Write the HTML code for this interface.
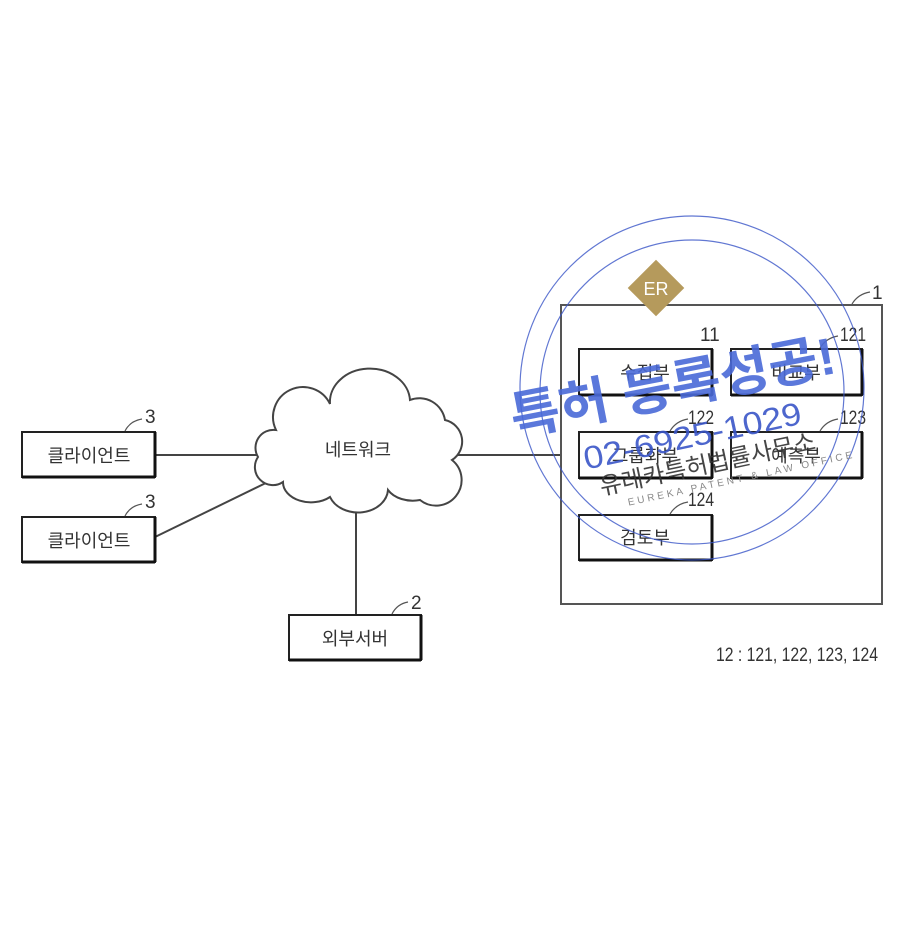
<!DOCTYPE html>
<html><head><meta charset="utf-8"><style>
html,body{margin:0;padding:0;background:#fff;}
svg{display:block;}
text{font-family:"Liberation Sans","Noto Sans CJK KR","NanumGothic",sans-serif;}
</style></head><body>
<svg width="900" height="949" viewBox="0 0 900 949" xmlns="http://www.w3.org/2000/svg">
<rect width="900" height="949" fill="#fff"/>
<g stroke="#444" stroke-width="2" fill="none">
<line x1="155" y1="455" x2="262" y2="455"/>
<line x1="155" y1="537" x2="272" y2="480"/>
<line x1="356" y1="510" x2="356" y2="616"/>
<line x1="455" y1="455" x2="561" y2="455"/>
<path d="M258,457 A18 18 0 0 1 276,430 A28 28 0 0 1 330,404 A36 30 0 0 1 410,400 A26 26 0 0 1 445,420 A22 22 0 0 1 452,460 A24 24 0 0 1 420,500 A28 20 0 0 1 388,490 A30 24 0 0 1 330,497 A28 20 0 0 1 283,482 A18 18 0 0 1 258,457 Z" fill="#fff"/>
</g>
<g fill="#fff" stroke="#222" stroke-width="2">
<rect x="22" y="432" width="133" height="45"/>
<rect x="22" y="517" width="133" height="45"/>
<rect x="289" y="615" width="132" height="45"/>
<rect x="561" y="305" width="321" height="299" stroke="#555"/>
<rect x="579" y="349" width="133" height="46"/>
<rect x="731" y="349" width="131" height="46"/>
<rect x="579" y="432" width="133" height="46"/>
<rect x="731" y="432" width="131" height="46"/>
<rect x="579" y="515" width="133" height="45"/>
</g>
<g stroke="#111" stroke-width="3">
<line x1="22" y1="477" x2="155" y2="477"/><line x1="155" y1="432" x2="155" y2="477"/>
<line x1="22" y1="562" x2="155" y2="562"/><line x1="155" y1="517" x2="155" y2="562"/>
<line x1="289" y1="660" x2="421" y2="660"/><line x1="421" y1="615" x2="421" y2="660"/>
<line x1="579" y1="395" x2="712" y2="395"/><line x1="712" y1="349" x2="712" y2="395"/>
<line x1="731" y1="395" x2="862" y2="395"/><line x1="862" y1="349" x2="862" y2="395"/>
<line x1="579" y1="478" x2="712" y2="478"/><line x1="712" y1="432" x2="712" y2="478"/>
<line x1="731" y1="478" x2="862" y2="478"/><line x1="862" y1="432" x2="862" y2="478"/>
<line x1="579" y1="560" x2="712" y2="560"/><line x1="712" y1="515" x2="712" y2="560"/>
</g>
<g fill="#333" font-size="18" text-anchor="middle">
<text x="89" y="462">클라이언트</text>
<text x="89" y="547">클라이언트</text>
<text x="355" y="645">외부서버</text>
<text x="358" y="456">네트워크</text>
<text x="645" y="379">수집부</text>
<text x="796" y="379">비교부</text>
<text x="645" y="462">그룹화부</text>
<text x="796" y="462">예측부</text>
<text x="645" y="544">검토부</text>
</g>
<g fill="#333" font-size="19">
<text x="145" y="423">3</text>
<text x="145" y="508">3</text>
<text x="411" y="609">2</text>
<text x="872" y="299">1</text>
<text x="700" y="341">11</text>
<text x="840" y="341" textLength="26" lengthAdjust="spacingAndGlyphs">121</text>
<text x="688" y="424" textLength="26" lengthAdjust="spacingAndGlyphs">122</text>
<text x="840" y="424" textLength="26" lengthAdjust="spacingAndGlyphs">123</text>
<text x="688" y="506" textLength="26" lengthAdjust="spacingAndGlyphs">124</text>
<text x="716" y="661" textLength="162" lengthAdjust="spacingAndGlyphs">12 : 121, 122, 123, 124</text>
</g>
<g stroke="#555" stroke-width="1.2" fill="none">
<path d="M125,431 q5,-10 17,-12"/><path d="M125,516 q5,-10 17,-12"/>
<path d="M392,614 q5,-10 16,-12"/><path d="M852,304 q6,-10 18,-12"/>
<path d="M820,348 q6,-10 18,-12"/><path d="M670,431 q6,-10 18,-12"/>
<path d="M820,431 q6,-10 18,-12"/><path d="M670,514 q6,-10 18,-12"/>
</g>
<g fill="none" stroke="#3a56c8" stroke-width="1.2" opacity="0.8">
<circle cx="692" cy="388" r="172"/>
<circle cx="692" cy="392" r="152"/>
</g>
<rect x="636" y="268" width="40" height="40" fill="#b59a5c" transform="rotate(45 656 288)"/>
<text x="656" y="295" font-size="18" fill="#fff" text-anchor="middle" font-family="Liberation Serif,serif">ER</text>
<g transform="rotate(-11 668 372)">
<text x="505" y="405" font-size="52" font-weight="bold" fill="#4a6ad8" opacity="0.9" textLength="330" lengthAdjust="spacingAndGlyphs">특허 등록성공!</text>
</g>
<g transform="rotate(-12 685 420)">
<text x="578" y="448" font-size="32" fill="#3a56c8" opacity="0.9" textLength="222" lengthAdjust="spacingAndGlyphs">02-6925-1029</text>
<text x="588" y="476" font-size="24" fill="#333" opacity="0.9" textLength="220" lengthAdjust="spacingAndGlyphs">유레카특허법률사무소</text>
<text x="612" y="492" font-size="10" fill="#888" letter-spacing="3">EUREKA PATENT &amp; LAW OFFICE</text>
</g>
</svg>
</body></html>
